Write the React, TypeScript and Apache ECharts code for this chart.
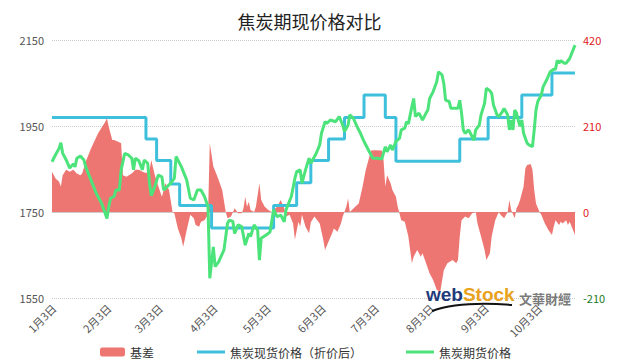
import React, { useEffect, useRef } from "react";
import * as echarts from "echarts";

const titleText = "焦炭期现价格对比";
const startDate = "2020-01-02";
const endDate = "2020-10-23";

const leftTicks = { min: 1550, max: 2150, interval: 200 };
const rightTicks = { min: -210, max: 420, interval: 210 };

const spotDates = ["1/2", "2/24", "3/1", "3/9", "3/14", "4/1", "5/6", "5/19", "5/27", "6/6", "6/15", "6/26", "7/8", "7/14", "8/19", "9/4", "9/23", "10/10", "10/23"];
const spotValues = [1970, 1920, 1870, 1815, 1765, 1713, 1765, 1818, 1870, 1920, 1970, 2022, 1970, 1868, 1920, 1970, 2022, 2073, 2073];

const futuresDates = [
  "1/2", "1/4", "1/6", "1/7", "1/8", "1/10", "1/12", "1/14", "1/15", "1/16", "1/18", "1/20", "1/21", "1/24", "1/27", "1/30",
  "2/2", "2/3", "2/4", "2/6", "2/7", "2/9", "2/10", "2/12", "2/14", "2/16", "2/17", "2/18", "2/20", "2/22", "2/23", "2/25", "2/26", "2/27", "2/29",
  "3/2", "3/4", "3/5", "3/7", "3/9", "3/11", "3/12", "3/15", "3/18", "3/20", "3/22", "3/24", "3/26", "3/28", "3/30", "3/31",
  "4/2", "4/3", "4/5", "4/8", "4/10", "4/11", "4/13", "4/14", "4/16", "4/18", "4/20", "4/22", "4/23", "4/25", "4/27", "4/28", "4/29",
  "5/2", "5/4", "5/6", "5/8", "5/10", "5/12", "5/13", "5/16", "5/18", "5/19", "5/21", "5/22", "5/24", "5/26", "5/27", "5/28", "5/30",
  "6/1", "6/2", "6/4", "6/5", "6/7", "6/10", "6/12", "6/14", "6/15", "6/17", "6/18", "6/20", "6/22", "6/24", "6/26", "6/29",
  "7/1", "7/4", "7/6", "7/8", "7/9", "7/11", "7/12", "7/14", "7/16", "7/17", "7/19", "7/20", "7/21", "7/23", "7/24", "7/25", "7/27", "7/29", "7/31",
  "8/1", "8/2", "8/4", "8/6", "8/7", "8/9", "8/10", "8/11", "8/13", "8/14", "8/18", "8/19", "8/20", "8/21", "8/22", "8/24", "8/26", "8/27", "8/28", "8/30", "8/31",
  "9/2", "9/3", "9/5", "9/6", "9/7", "9/9", "9/10", "9/12", "9/13", "9/15", "9/16", "9/17", "9/18", "9/19", "9/20", "9/21", "9/22", "9/23", "9/24", "9/26", "9/27", "9/29", "9/30",
  "10/1", "10/2", "10/4", "10/5", "10/7", "10/9", "10/11", "10/12", "10/13", "10/14", "10/15", "10/17", "10/18", "10/20", "10/23",
];
const futuresValues = [
  1867, 1883, 1898, 1911, 1887, 1871, 1852, 1862, 1855, 1875, 1880, 1871, 1855, 1824, 1793, 1770,
  1735, 1762, 1782, 1786, 1801, 1801, 1848, 1886, 1883, 1875, 1848, 1875, 1869, 1848, 1871, 1863, 1817, 1788, 1809,
  1836, 1832, 1801, 1809, 1817, 1828, 1879, 1855, 1824, 1782, 1778, 1801, 1801, 1786, 1762, 1596,
  1669, 1623, 1634, 1662, 1724, 1731, 1728, 1700, 1720, 1716, 1673, 1700, 1693, 1720, 1708, 1638, 1689,
  1697, 1704, 1755, 1739, 1743, 1727, 1755, 1786, 1828, 1844, 1848, 1817, 1848, 1875, 1863, 1871, 1886,
  1906, 1933, 1960, 1956, 1964, 1960, 1972, 1952, 1937, 1952, 1976, 1968, 1949, 1933, 1914, 1890,
  1875, 1875, 1873, 1902, 1890, 1906, 1894, 1914, 1921, 1941, 1945, 1960, 1955, 1995, 2014, 1972, 1980, 1964, 1980,
  1987, 2014, 2030, 2053, 2076, 2069, 2049, 2010, 2007, 1991, 1991, 2010, 1980, 1941, 1933, 1941, 1925, 1917, 1941, 1952, 1976,
  2003, 2038, 2032, 2026, 1999, 1976, 1972, 1983, 1991, 1976, 1941, 1964, 1941, 1987, 1980, 1964, 1949, 1964, 1933, 1910, 1906, 1902, 1941,
  1987, 2007, 2022, 2041, 2057, 2076, 2082, 2082, 2103, 2096, 2102, 2096, 2096, 2107, 2138,
];

const basisDates = [
  "1/2", "1/4", "1/6", "1/7", "1/8", "1/10", "1/12", "1/14", "1/16", "1/18", "1/19", "1/21", "1/24", "1/28",
  "2/1", "2/2", "2/3", "2/5", "2/6", "2/8", "2/10", "2/11", "2/13", "2/16", "2/18", "2/20", "2/22", "2/24", "2/26", "2/27", "2/29",
  "3/2", "3/4", "3/5", "3/6", "3/8", "3/10", "3/11", "3/13", "3/15", "3/16", "3/18", "3/20", "3/22", "3/23", "3/25", "3/26", "3/28", "3/30", "3/31",
  "4/2", "4/4", "4/5", "4/7", "4/9", "4/10", "4/12", "4/14", "4/16", "4/18", "4/19", "4/20", "4/21", "4/22", "4/23", "4/25", "4/26", "4/28", "4/29",
  "5/1", "5/3", "5/5", "5/7", "5/8", "5/10", "5/12", "5/13", "5/15", "5/17", "5/18", "5/20", "5/21", "5/22", "5/24", "5/26", "5/27", "5/29",
  "6/1", "6/3", "6/4", "6/6", "6/8", "6/9", "6/11", "6/13", "6/14", "6/16", "6/17", "6/18", "6/21", "6/23", "6/25", "6/27", "6/29", "6/30",
  "7/2", "7/6", "7/7", "7/8", "7/9", "7/11", "7/12", "7/14", "7/15", "7/17", "7/19", "7/21", "7/23", "7/24", "7/26", "7/28", "7/29", "7/31",
  "8/2", "8/4", "8/6", "8/8", "8/10", "8/12", "8/15", "8/17", "8/18", "8/19", "8/20", "8/22", "8/24", "8/26", "8/28", "8/29", "8/31",
  "9/2", "9/3", "9/5", "9/6", "9/8", "9/10", "9/11", "9/13", "9/15", "9/16", "9/17", "9/19", "9/20", "9/21", "9/22", "9/24", "9/25", "9/26", "9/28", "9/29", "9/30",
  "10/1", "10/3", "10/4", "10/6", "10/8", "10/10", "10/11", "10/12", "10/14", "10/15", "10/16", "10/18", "10/19", "10/20", "10/23",
];
const basisValues = [
  98, 82, 74, 62, 90, 103, 98, 103, 94, 90, 94, 123, 155, 192,
  220, 229, 208, 176, 176, 172, 168, 90, 86, 94, 103, 103, 98, 95, 100, 127, 90,
  62, 37, 54, 70, 54, 0, -3, -40, -65, -85, -44, -7, -15, -32, -36, -24, -20, -7, 168,
  111, 90, 78, 54, 0, -15, -11, 9, -3, -3, 9, 37, 13, 25, 5, 0, 13, 70, 29,
  13, 5, 0, 9, 13, 29, 9, -11, -7, -28, -68, -24, -36, -7, -36, -52, -25, -11,
  -28, -68, -93, -72, -52, -40, -48, -28, -11, 13, 33, 0, 13, 21, 58, 103, 135, 150,
  151, 150, 127, 62, 90, 70, 54, 37, 13, -20, -24, -60, -125, -109, -93, -109, -101, -125,
  -150, -166, -190, -195, -142, -125, -117, -125, -117, -60, -20, -11, -15, -3, 0, -28, -60,
  -93, -117, -101, -60, -20, 0, -7, -15, 0, 29, 5, -15, 9, 17, 29, 62, 107, 115, 117, 103, 54,
  21, 0, -7, -28, -44, -56, -36, -20, -32, -24, -28, -20, -32, -24, -56,
];

const seriesNames = ["基差", "焦炭现货价格（折价后）", "焦炭期货价格"];
const colors = { basis: "#EE7672", spot: "#3EC0DC", futures: "#4CE37B" };

function buildCategories(): string[] {
  const out: string[] = [];
  const s = new Date(startDate + "T00:00:00Z");
  const e = new Date(endDate + "T00:00:00Z");
  for (let t = s.getTime(); t <= e.getTime(); t += 86400000) {
    const d = new Date(t);
    out.push(`${d.getUTCMonth() + 1}/${d.getUTCDate()}`);
  }
  return out;
}

const zip = (a: string[], b: number[]) => a.map((x, i) => [x, b[i]]);

const FONT = "'Noto Sans CJK SC', 'Noto Sans', sans-serif";

export default function App() {
  const ref = useRef<HTMLDivElement>(null);
  useEffect(() => {
    document.body.style.margin = "0";
    if (!ref.current) return;
    const chart = echarts.init(ref.current, undefined, { renderer: "svg" });
    const categories = buildCategories();
    const isThird = (v: string) => v.split("/")[1] === "3";
    const legendText = { fontSize: 12, color: "#333", fontFamily: FONT, lineHeight: 14 };
    chart.setOption({
      animation: false,
      textStyle: { fontFamily: FONT },
      title: {
        text: titleText,
        left: "center",
        top: 7,
        textStyle: { fontSize: 18, fontWeight: "normal", color: "#222", fontFamily: FONT },
      },
      legend: [
        {
          top: 340,
          left: 95,
          itemWidth: 25,
          itemHeight: 9,
          textStyle: legendText,
          data: [{ name: seriesNames[0], icon: "roundRect", itemStyle: { color: colors.basis } }],
        },
        {
          top: 340,
          left: 192,
          itemWidth: 28,
          itemHeight: 3,
          itemGap: 44,
          textStyle: legendText,
          data: [
            { name: seriesNames[1], icon: "rect", itemStyle: { color: colors.spot } },
            { name: seriesNames[2], icon: "rect", itemStyle: { color: colors.futures } },
          ],
        },
      ],
      grid: { left: 52, right: 44, top: 40, bottom: 64, containLabel: false },
      xAxis: {
        type: "category",
        data: categories,
        boundaryGap: false,
        axisLine: { show: true, lineStyle: { color: "#ccc" } },
        axisTick: { show: false },
        splitLine: { show: false },
        axisLabel: {
          rotate: 45,
          interval: (_i: number, v: string) => isThird(v),
          formatter: (v: string) => {
            const [m, d] = v.split("/");
            return `${m}月${d}日`;
          },
          fontSize: 11,
          color: "#555",
          margin: 8,
        },
      },
      yAxis: [
        {
          type: "value",
          min: leftTicks.min,
          max: leftTicks.max,
          interval: leftTicks.interval,
          axisLine: { show: false },
          axisTick: { show: false },
          axisLabel: { fontSize: 11, color: "#555", margin: 8, formatter: (v: number) => String(v) },
          splitLine: { show: true, lineStyle: { color: "#ccc", type: "dotted" } },
        },
        {
          type: "value",
          min: rightTicks.min,
          max: rightTicks.max,
          interval: rightTicks.interval,
          axisLine: { show: false },
          axisTick: { show: false },
          splitLine: { show: false },
          axisLabel: {
            fontSize: 11,
            margin: 8,
            formatter: (v: number) => (v < 0 ? `{n|${v}}` : `{p|${v}}`),
            rich: {
              p: { color: "#E0201B", fontSize: 11 },
              n: { color: "#1C7A1C", fontSize: 11 },
            },
          },
        },
      ],
      series: [
        {
          name: seriesNames[0],
          type: "line",
          yAxisIndex: 1,
          data: zip(basisDates, basisValues),
          symbol: "none",
          showSymbol: false,
          lineStyle: { width: 0, color: colors.basis },
          itemStyle: { color: colors.basis },
          areaStyle: { color: colors.basis, opacity: 1 },
          z: 1,
        },
        {
          name: seriesNames[1],
          type: "line",
          data: zip(spotDates, spotValues),
          step: "end",
          symbol: "none",
          showSymbol: false,
          lineStyle: { width: 3, color: colors.spot },
          itemStyle: { color: colors.spot },
          z: 2,
        },
        {
          name: seriesNames[2],
          type: "line",
          data: zip(futuresDates, futuresValues),
          symbol: "none",
          showSymbol: false,
          lineStyle: { width: 3, color: colors.futures },
          itemStyle: { color: colors.futures },
          z: 3,
        },
      ],
      graphic: [
        {
          type: "text",
          left: 426,
          top: 285,
          z: 10,
          style: {
            text: "{a|web}{b|Stock}",
            rich: {
              a: { fontSize: 19, fontWeight: "bold", fill: "#1E3A7B", fontFamily: "'Liberation Sans', Arial, sans-serif" },
              b: { fontSize: 19, fontWeight: "bold", fill: "#E9A21E", fontFamily: "'Liberation Sans', Arial, sans-serif" },
            },
          },
        },
        {
          type: "text",
          left: 519,
          top: 292,
          z: 10,
          style: {
            text: "文華財經",
            fontSize: 13,
            fontWeight: "bold",
            fill: "#7A7A7A",
            fontFamily: "'Noto Sans CJK TC', sans-serif",
          },
        },
        {
          type: "bezierCurve",
          z: 10,
          shape: { x1: 432, y1: 311, x2: 512, y2: 305, cpx1: 460, cpy1: 301 },
          style: { stroke: "#111", lineWidth: 2, fill: null },
        },
      ],
    });
    return () => chart.dispose();
  }, []);
  return <div ref={ref} style={{ width: 619, height: 362 }} />;
}
